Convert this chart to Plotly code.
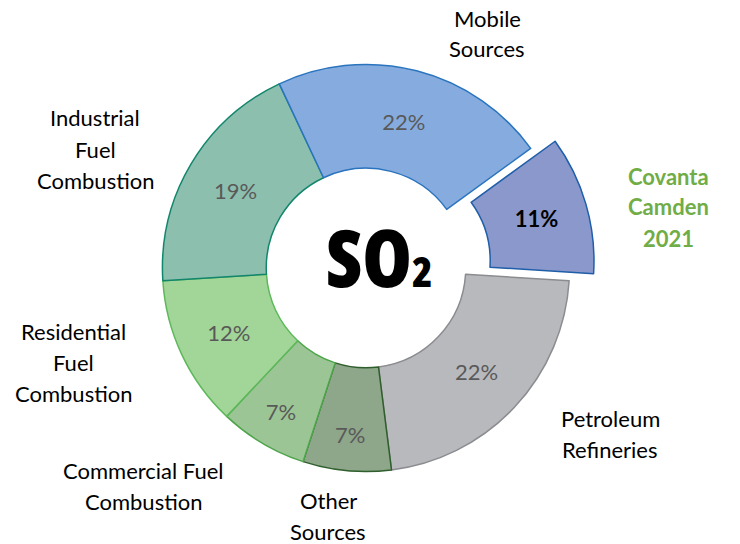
import plotly.graph_objects as go

# ---- data ----
categories = ["Covanta Camden 2021", "Petroleum Refineries", "Other Sources",
              "Commercial Fuel Combustion", "Residential Fuel Combustion",
              "Industrial Fuel Combustion", "Mobile Sources"]
shares = [11, 22, 7, 7, 12, 19, 22]
pct_text = ["<b>11%</b>", "22%", "7%", "7%", "12%", "19%", "22%"]
label_lines = [
    ["Covanta", "Camden", "2021"],
    ["Petroleum", "Refineries"],
    ["Other", "Sources"],
    ["Commercial Fuel", "Combustion"],
    ["Residential", "Fuel", "Combustion"],
    ["Industrial", "Fuel", "Combustion"],
    ["Mobile", "Sources"],
]

# ---- styles ----
fill_colors = ["#8a98cc", "#b8b9bd", "#8ea68a", "#9cc596", "#a2d598", "#8dbfae", "#86acdf"]
edge_colors = ["#1f5ea8", "#8b8c90", "#2f5f2c", "#4ea64b", "#5db85a", "#11866c", "#2a74be"]
text_colors = ["#000000"] + ["#595959"] * 6
pulls = [0.125, 0, 0, 0, 0, 0, 0]

W, H = 740, 544
OFF = 8  # page body margin offset (px)
cx, cy, R = 366 - OFF, 268 - OFF, 229  # pie domain centre/half-size in px

fig = go.Figure(go.Pie(
    labels=categories, values=shares, text=pct_text,
    textinfo="text", textposition="inside", insidetextorientation="horizontal",
    textfont=dict(family="Lato", size=22, color=text_colors),
    marker=dict(colors=fill_colors, line=dict(color=edge_colors, width=1.5)),
    hole=0.49, sort=False, direction="clockwise", rotation=54, pull=pulls,
    hoverinfo="skip", showlegend=False,
    domain=dict(x=[(cx - R) / W, (cx + R) / W], y=[(H - cy - R) / H, (H - cy + R) / H]),
))

# label placement (line centres in px, reference coordinates)
label_pos = [
    (668, 176, "#70ad47", True),
    (610, 418, "#000000", False),
    (328, 500, "#000000", False),
    (143, 470, "#000000", False),
    (73, 331, "#000000", False),
    (95, 118, "#000000", False),
    (487, 18, "#000000", False),
]
line_gap = 31
annotations = []
for lines, (x, y0, col, bold) in zip(label_lines, label_pos):
    for i, ln in enumerate(lines):
        annotations.append(dict(
            x=(x - OFF) / W, y=1 - (y0 - OFF + i * line_gap) / H, xref="paper", yref="paper",
            text=f"<b>{ln}</b>" if bold else ln, showarrow=False,
            xanchor="center", yanchor="middle",
            font=dict(family="Lato", size=22, color=col)))

annotations.append(dict(
    x=(379 - OFF) / W, y=1 - (256 - OFF) / H, xref="paper", yref="paper", showarrow=False,
    xanchor="center", yanchor="middle",
    text="<span style='font-stretch:75%;font-weight:800'>SO<span style='font-size:42px'>2</span></span>",
    font=dict(family="Open Sans", size=80, color="#000000")))

fig.update_layout(
    width=W, height=H, margin=dict(l=0, r=0, t=0, b=0),
    paper_bgcolor="white", plot_bgcolor="white",
    annotations=annotations,
)
fig.write_html("out.html")
